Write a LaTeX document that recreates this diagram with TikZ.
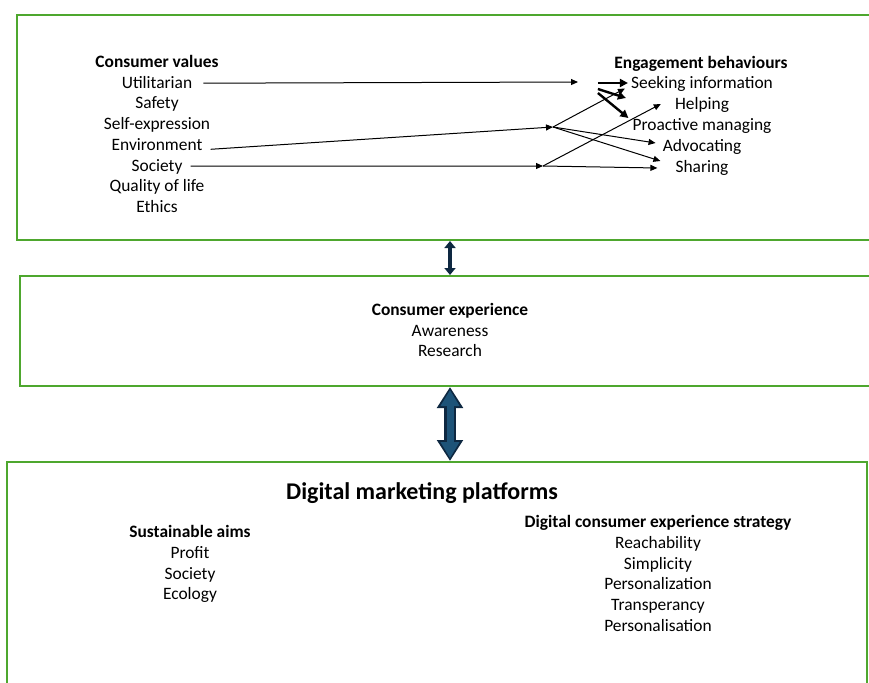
\documentclass[tikz,border=0pt]{standalone}
\usepackage{fontspec}
\setmainfont{Carlito}
\usetikzlibrary{arrows.meta,calc}
\definecolor{PanelGreen}{HTML}{4EA72E}
\definecolor{LinkNavy}{HTML}{0E2841}
\definecolor{LinkBlue}{HTML}{1D5378}

\tikzset{
  panel/.style={draw=PanelGreen, line width=2pt, anchor=north west, inner sep=0pt},
  item/.style={anchor=base, inner sep=0pt, font=\fontsize{17.4}{20}\selectfont},
  head/.style={anchor=base, inner sep=0pt, font=\fontsize{17.4}{20}\selectfont\bfseries},
  link/.style={line width=1pt, -{Triangle[length=7pt,width=6pt]}},
  boldlink/.style={line width=2.4pt, -{Triangle[length=8pt,width=8pt]}},
}

\begin{document}
\begin{tikzpicture}[x=1pt,y=-1pt]
  \useasboundingbox (0,0) rectangle (869,682);

  % the three panels
  \node[panel, minimum width=880pt, minimum height=225pt] (values) at (16,14) {};
  \node[panel, minimum width=880pt, minimum height=110pt] (experience) at (19,275) {};
  \node[panel, minimum width=860pt, minimum height=260pt] (platforms) at (6,461) {};

  % top panel: values on the left, behaviours on the right
  \node[head] (cv) at (157,67.5) {Consumer values};
  \foreach \t [count=\i] in {Utilitarian, Safety, Self-expression, Environment, Society, Quality of life, Ethics}
    \node[item] (val-\i) at (157,{67.5+20.7*\i}) {\t};
  \node[head] (eb) at (701,68.5) {Engagement behaviours};
  \foreach \t [count=\i] in {Seeking information, Helping, Proactive managing, Advocating, Sharing}
    \node[item] (beh-\i) at (702,{67.5+21*\i}) {\t};

  % middle panel
  \node[head] (ce) at (450,315.5) {Consumer experience};
  \node[item] (exp-1) at (450,336.5) {Awareness};
  \node[item] (exp-2) at (450,356.5) {Research};

  % bottom panel
  \node[anchor=base, inner sep=0pt, font=\fontsize{24}{28}\selectfont\bfseries] (dmp) at (422,499.5) {Digital marketing platforms};
  \node[head] (sa) at (190,537.5) {Sustainable aims};
  \foreach \t [count=\i] in {Profit, Society, Ecology}
    \node[item] (aim-\i) at (190,{537.5+20.8*\i}) {\t};
  \node[head] (dcx) at (658,527.5) {Digital consumer experience strategy};
  \foreach \t [count=\i] in {Reachability, Simplicity, Personalization, Transperancy, Personalisation}
    \node[item] (str-\i) at (658,{527.5+20.8*\i}) {\t};

  % value -> behaviour links
  \coordinate (util-end) at (578,82);
  \coordinate (env-hub) at (553,127);
  \coordinate (soc-hub) at (543,166);
  \draw[link] ($(val-1.base east)+(11,-5)$) -- (util-end);
  \draw[link] ($(val-4.base east)+(8,-1)$) -- (env-hub);
  \draw[link] ($(val-5.base east)+(8,-5)$) -- (soc-hub);
  \draw[link] (env-hub) -- ($(beh-1.base west)+(-6,0)$);
  \draw[link] (env-hub) -- ($(beh-4.base west)+(-7,-8.5)$);
  \draw[link] (env-hub) -- ($(beh-5.base west)+(-15,-11.5)$);
  \draw[link] (soc-hub) -- ($(beh-2.base west)+(-14,-5.5)$);
  \draw[link] (soc-hub) -- ($(beh-5.base west)+(-18,-4.5)$);
  \draw[boldlink] ($(beh-1.base west)+(-33,-5.5)$) -- ($(beh-1.base west)+(-3,-5.5)$);
  \draw[boldlink] ($(beh-1.base west)+(-33,0.5)$) -- ($(beh-1.base west)+(-5,9.5)$);
  \draw[boldlink] ($(beh-1.base west)+(-33,4.5)$) -- ($(beh-3.base west)+(-4,-12.5)$);

  % block arrows between the panels
  \coordinate (axis) at (450,0);
  \draw[LinkNavy, line width=4pt, {Triangle[length=7pt,width=11pt]}-{Triangle[length=7pt,width=11pt]}]
    (values.south -| axis) -- (experience.north -| axis);
  \draw[LinkNavy, line width=12pt, {Triangle[length=21pt,width=25pt]}-{Triangle[length=21pt,width=25pt]}]
    (experience.south -| axis) -- (platforms.north -| axis);
  \draw[LinkBlue, line width=7pt, shorten <=3pt, shorten >=3pt, {Triangle[length=16pt,width=18pt]}-{Triangle[length=16pt,width=18pt]}]
    (experience.south -| axis) -- (platforms.north -| axis);
\end{tikzpicture}
\end{document}
